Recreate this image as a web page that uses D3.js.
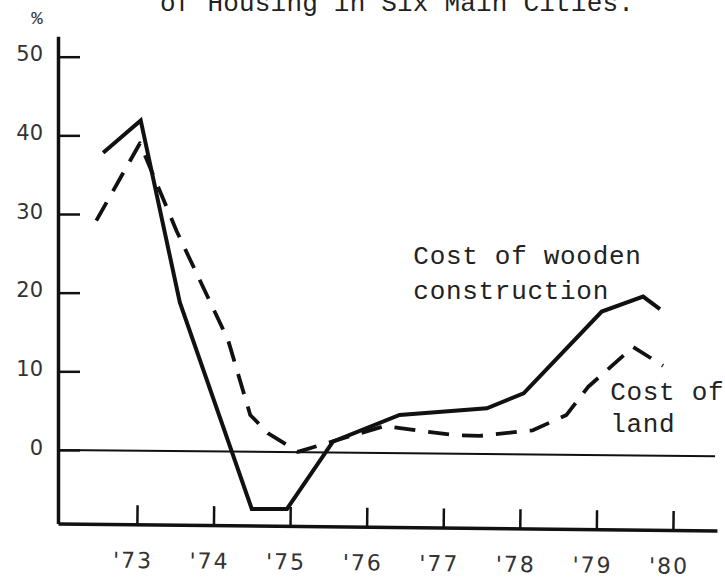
<!DOCTYPE html>
<html><head><meta charset="utf-8">
<script src="https://cdn.jsdelivr.net/npm/d3@7"></script>
<style>body{margin:0;background:#fff}</style>
</head><body>
<svg id="c" width="725" height="584"></svg>
<script>
// ---- data ----
const titleText = "of Housing in Six Main Cities.";
const unitLabel = "%";
const yearTicks = [73, 74, 75, 76, 77, 78, 79, 80];
const yearLabels = ["'73", "'74", "'75", "'76", "'77", "'78", "'79", "'80"];
const valueTicks = [0, 10, 20, 30, 40, 50];
const valueLabels = ["0", "10", "20", "30", "40", "50"];

// Cost of wooden construction (solid)
const woodYears  = [72.56, 73.05, 73.56, 74.50, 74.96, 75.56, 76.43, 77.57, 78.05, 79.07, 79.61, 79.83];
const woodValues = [37.8,  41.9,  18.8,  -7.5,  -7.5,  1.05,  4.45,  5.3,   7.2,   17.6,  19.5,  17.9];

// Cost of land (dashed)
const landYears  = [72.47, 73.04, 73.52, 74.19, 74.48, 74.71, 75.00, 75.10, 75.54, 76.24, 76.65, 77.13, 77.48, 78.17, 78.61, 78.89, 79.48, 79.87];
const landValues = [29.15, 39.0,  27.8,  14.0,  4.45,  2.15,  0.4,   -0.25, 1.05,  3.05,  2.5,   1.9,   1.8,   2.5,   4.45,  8.0,   13.1,  10.7];

const woodLabel = ["Cost of wooden", "construction"];
const landLabel = ["Cost of", "land"];

// ---- chart ----
const svg = d3.select("#c");
const ink = "#111";
const mono = "'Liberation Mono', 'Courier New', monospace";
const sans = "'DejaVu Sans', sans-serif";

const x = d3.scaleLinear().domain([71.97, 80.575]).range([58, 717]);
const y = d3.scaleLinear().domain([-9.35, 52.6]).range([523.5, 36.25]);

// title (top line partly cut off in the reference)
svg.append("text")
  .attr("x", 160).attr("y", 11)
  .attr("font-family", mono).attr("font-size", 26)
  .attr("letter-spacing", 0.2)
  .attr("fill", "#222")
  .text(titleText);

// unit
svg.append("text")
  .attr("x", 37).attr("y", 24)
  .attr("text-anchor", "middle")
  .attr("font-family", mono).attr("font-size", 19)
  .attr("fill", "#333")
  .text(unitLabel);

// zero reference line (slightly skewed like the scan)
svg.append("g")
  .attr("transform", `rotate(0.55, ${x.range()[0]}, ${y(0)})`)
  .append("line")
  .attr("x1", x.range()[0]).attr("x2", x(80.55))
  .attr("y1", y(0)).attr("y2", y(0))
  .attr("stroke", ink).attr("stroke-width", 2);

// y axis
const yAxis = d3.axisLeft(y)
  .tickValues(valueTicks)
  .tickFormat((d, i) => valueLabels[i])
  .tickSize(-22).tickSizeOuter(0).tickPadding(15);
const gy = svg.append("g").attr("transform", `translate(${x.range()[0]},0)`).call(yAxis);
gy.attr("font-size", 21).attr("font-family", sans);
gy.select(".domain").attr("stroke", ink).attr("stroke-width", 3.5);
gy.selectAll(".tick line").attr("stroke", ink).attr("stroke-width", 2.5);
gy.selectAll(".tick text").attr("fill", "#333").attr("dy", "0.2em");

// x axis
const xAxis = d3.axisBottom(x)
  .tickValues(yearTicks)
  .tickFormat((d, i) => yearLabels[i])
  .tickSize(-19).tickSizeOuter(0).tickPadding(28);
const gx = svg.append("g")
  .attr("transform", `translate(0,${y.range()[0]}) rotate(0.6, ${x.range()[0]}, 0)`)
  .call(xAxis);
gx.attr("font-size", 22).attr("font-family", sans);
gx.select(".domain").attr("stroke", ink).attr("stroke-width", 3.5);
gx.selectAll(".tick line").attr("stroke", ink).attr("stroke-width", 2.5);
gx.selectAll(".tick text")
  .attr("letter-spacing", 2)
  .attr("fill", "#333")
  .attr("dx", -4);

// lines
const line = d3.line().x(d => x(d[0])).y(d => y(d[1]));
const woodData = woodYears.map((v, i) => [v, woodValues[i]]);
const landData = landYears.map((v, i) => [v, landValues[i]]);

svg.append("path")
  .datum(landData)
  .attr("d", line)
  .attr("fill", "none").attr("stroke", ink)
  .attr("stroke-width", 3.8)
  .attr("stroke-dasharray", "21,13")
  .attr("stroke-linejoin", "round");

svg.append("path")
  .datum(woodData)
  .attr("d", line)
  .attr("fill", "none").attr("stroke", ink)
  .attr("stroke-width", 4)
  .attr("stroke-linejoin", "miter");

// annotations
function annotate(lines, year, value, lh) {
  const t = svg.append("text")
    .attr("font-family", mono).attr("font-size", 26)
    .attr("letter-spacing", 0.7)
    .attr("fill", "#222");
  lines.forEach((s, i) => {
    t.append("tspan").attr("x", x(year)).attr("y", y(value) + i * lh).text(s);
  });
}
annotate(woodLabel, 76.61, 23.7, 35);
annotate(landLabel, 79.18, 6.35, 32);
</script>
</body></html>
